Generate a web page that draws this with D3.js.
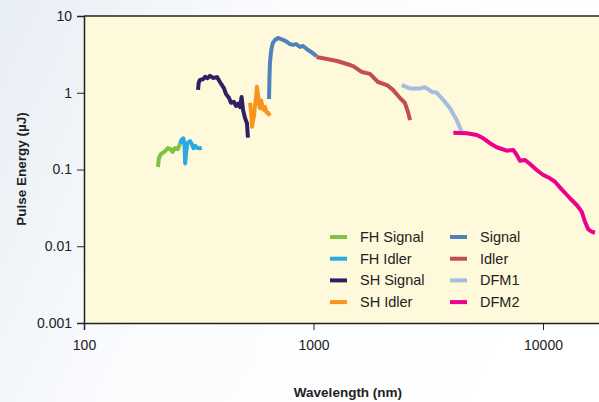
<!DOCTYPE html>
<head>
    <meta charset="utf-8">
    <title>Pulse Energy</title>
    <style>
        body { margin: 0; background: #fff; }
        text { font-family: "Liberation Sans", Arial, sans-serif; fill: #222; }
    </style>
</head>
<body>

<svg width="599" height="402"></svg>

<script src="https://d3js.org/d3.v7.min.js"></script>
<script>

    // wavelength (nm), pulse energy (uJ)
    var fhSignal = [[210,0.108],[212,0.14],[216,0.158],[225,0.172],[232,0.19],[238,0.184],[243,0.17],[249,0.19],[256,0.184],[262,0.215]];
    var fhIdler = [[262,0.215],[266,0.242],[271,0.255],[274,0.208],[276,0.12],[278,0.154],[282,0.219],[290,0.235],[295,0.213],[300,0.189],[305,0.204],[310,0.192],[320,0.189],[326,0.192]];
    var shSignal = [[314,1.09],[316,1.35],[320,1.47],[330,1.5],[337,1.61],[345,1.55],[354,1.66],[365,1.56],[380,1.6],[391,1.38],[407,1.15],[416,0.96],[428,0.86],[437,0.74],[450,0.76],[460,0.67],[469,0.72],[478,0.65],[486,0.88],[493,0.6],[503,0.47],[513,0.4],[518,0.26]];
    var shIdler = [[529,0.74],[535,0.55],[540,0.36],[546,0.45],[551,0.5],[556,0.7],[562,0.85],[567,1.2],[573,0.95],[579,0.7],[585,0.63],[591,0.8],[597,0.7],[606,0.6],[615,0.65],[625,0.55],[634,0.55],[646,0.5]];
    var signal = [[640,0.83],[643,1.6],[646,2.44],[653,3.4],[659,4.0],[666,4.5],[680,4.87],[700,5.17],[736,4.9],[766,4.6],[790,4.3],[814,4.2],[839,4.3],[874,3.95],[900,4.07],[946,3.6],[985,3.35],[1030,3.0]];
    var idler = [[1030,2.92],[1145,2.75],[1266,2.59],[1400,2.37],[1486,2.23],[1627,1.86],[1762,1.76],[1910,1.38],[2090,1.26],[2219,1.09],[2382,0.855],[2504,0.735],[2581,0.56],[2634,0.44]];
    var dfm1 = [[2423,1.26],[2634,1.14],[2911,1.14],[3060,1.18],[3274,1.03],[3443,1.0],[3678,0.805],[3934,0.627],[4208,0.44],[4423,0.31]];
    var dfm2 = [[4067,0.302],[4651,0.296],[5142,0.282],[5495,0.255],[5875,0.22],[6285,0.195],[6948,0.176],[7422,0.18],[7680,0.155],[7939,0.13],[8350,0.133],[8777,0.118],[9386,0.0985],[10030,0.0848],[10727,0.0768],[11280,0.0693],[12060,0.0552],[13110,0.0422],[14030,0.0345],[14740,0.0282],[15240,0.0209],[15750,0.0166],[16300,0.0155],[16850,0.015]];

    var seriesNames = ["FH Signal", "FH Idler", "SH Signal", "SH Idler", "Signal", "Idler", "DFM1", "DFM2"];
    var seriesData = [fhSignal, fhIdler, shSignal, shIdler, signal, idler, dfm1, dfm2];
    var seriesColors = ["#7dc242", "#29abe2", "#2e2163", "#f7941d", "#4f81bd", "#c0504d", "#a3bde0", "#ec008c"];

    var yMajor = [0.001, 0.01, 0.1, 1, 10];
    var yLabels = ["0.001", "0.01", "0.1", "1", "10"];
    var xMajor = [100, 1000, 10000];
    var xLabels = ["100", "1000", "10000"];

    var svg = d3.select("svg"),
        width = +svg.attr("width"),
        height = +svg.attr("height");

    var plotLeft = 84, plotTop = 16, plotBottom = 323;

    var x = d3.scaleLog()
        .domain([100, 20000])
        .range([plotLeft, plotLeft + 229.5 * Math.log10(200)]);

    var y = d3.scaleLog()
        .domain([0.001, 10])
        .range([plotBottom, plotTop]);

    // soft page background
    var defs = svg.append("defs");
    var grad = defs.append("linearGradient").attr("id", "bg").attr("x1", 0).attr("x2", 1).attr("y1", 0).attr("y2", 0.3);
    grad.append("stop").attr("offset", 0).attr("stop-color", "#e8eef5");
    grad.append("stop").attr("offset", 0.45).attr("stop-color", "#fbfcfe");
    grad.append("stop").attr("offset", 1).attr("stop-color", "#ffffff");
    svg.append("rect").attr("width", width).attr("height", height).attr("fill", "url(#bg)");

    svg.append("rect")
        .attr("x", plotLeft).attr("y", plotTop)
        .attr("width", x.range()[1] - plotLeft).attr("height", plotBottom - plotTop)
        .attr("fill", "#fef9da");

    svg.append("line")
        .attr("x1", plotLeft).attr("x2", width)
        .attr("y1", plotTop).attr("y2", plotTop)
        .attr("stroke", "#222").attr("stroke-width", 1.5);

    // minor tick values
    var xMinor = [], yMinor = [];
    [100, 1000, 10000].forEach(function(d) {
        for (var k = 2; k <= 9; k++) xMinor.push(d * k);
    });
    [0.001, 0.01, 0.1, 1].forEach(function(d) {
        for (var k = 2; k <= 9; k++) yMinor.push(d * k);
    });

    var gx = svg.append("g").attr("transform", "translate(0," + plotBottom + ")");
    gx.call(d3.axisBottom(x).tickValues(xMinor).tickSize(5).tickFormat(""));
    gx.call(d3.axisBottom(x).tickValues(xMajor).tickSize(7).tickPadding(10)
        .tickFormat(function(d, i) { return xLabels[i]; }));

    var gy = svg.append("g").attr("transform", "translate(" + plotLeft + ",0)");
    gy.call(d3.axisLeft(y).tickValues(yMinor).tickSize(5).tickFormat(""));
    gy.call(d3.axisLeft(y).tickValues(yMajor).tickSize(7).tickPadding(5)
        .tickFormat(function(d, i) { return yLabels[i]; }));

    svg.selectAll(".domain").attr("stroke", "#222").attr("stroke-width", 1.5);
    svg.selectAll(".tick line").attr("stroke", "#222");
    svg.selectAll(".tick text").attr("font-size", "14px").attr("fill", "#1a1a1a")
        .attr("font-family", "Liberation Sans, Arial, sans-serif");

    var line = d3.line()
        .x(function(d) { return x(d[0]); })
        .y(function(d) { return y(d[1]); })
        .curve(d3.curveLinear);

    svg.append("g")
        .selectAll("path")
        .data(seriesData)
        .enter().append("path")
            .attr("d", line)
            .attr("fill", "none")
            .attr("stroke", function(d, i) { return seriesColors[i]; })
            .attr("stroke-width", 4)
            .attr("stroke-linejoin", "round");

    // legend, two columns of four
    var legend = svg.append("g").selectAll("g")
        .data(seriesNames)
        .enter().append("g")
            .attr("transform", function(d, i) {
                return "translate(" + (i < 4 ? 330 : 450) + "," + (237 + (i % 4) * 21.7) + ")";
            });

    legend.append("line")
        .attr("x1", 0).attr("x2", 17)
        .attr("stroke", function(d, i) { return seriesColors[i]; })
        .attr("stroke-width", 4);

    legend.append("text")
        .attr("x", 30).attr("dy", "0.35em")
        .attr("font-size", "14.5px")
        .text(function(d) { return d; });

    svg.append("text")
        .attr("x", 348).attr("y", 397)
        .attr("text-anchor", "middle")
        .attr("font-weight", "bold")
        .attr("font-size", "13.5px")
        .text("Wavelength (nm)");

    svg.append("text")
        .attr("transform", "translate(26,169) rotate(-90)")
        .attr("text-anchor", "middle")
        .attr("font-weight", "bold")
        .attr("font-size", "13.5px")
        .text("Pulse Energy (µJ)");

</script>

</body>
